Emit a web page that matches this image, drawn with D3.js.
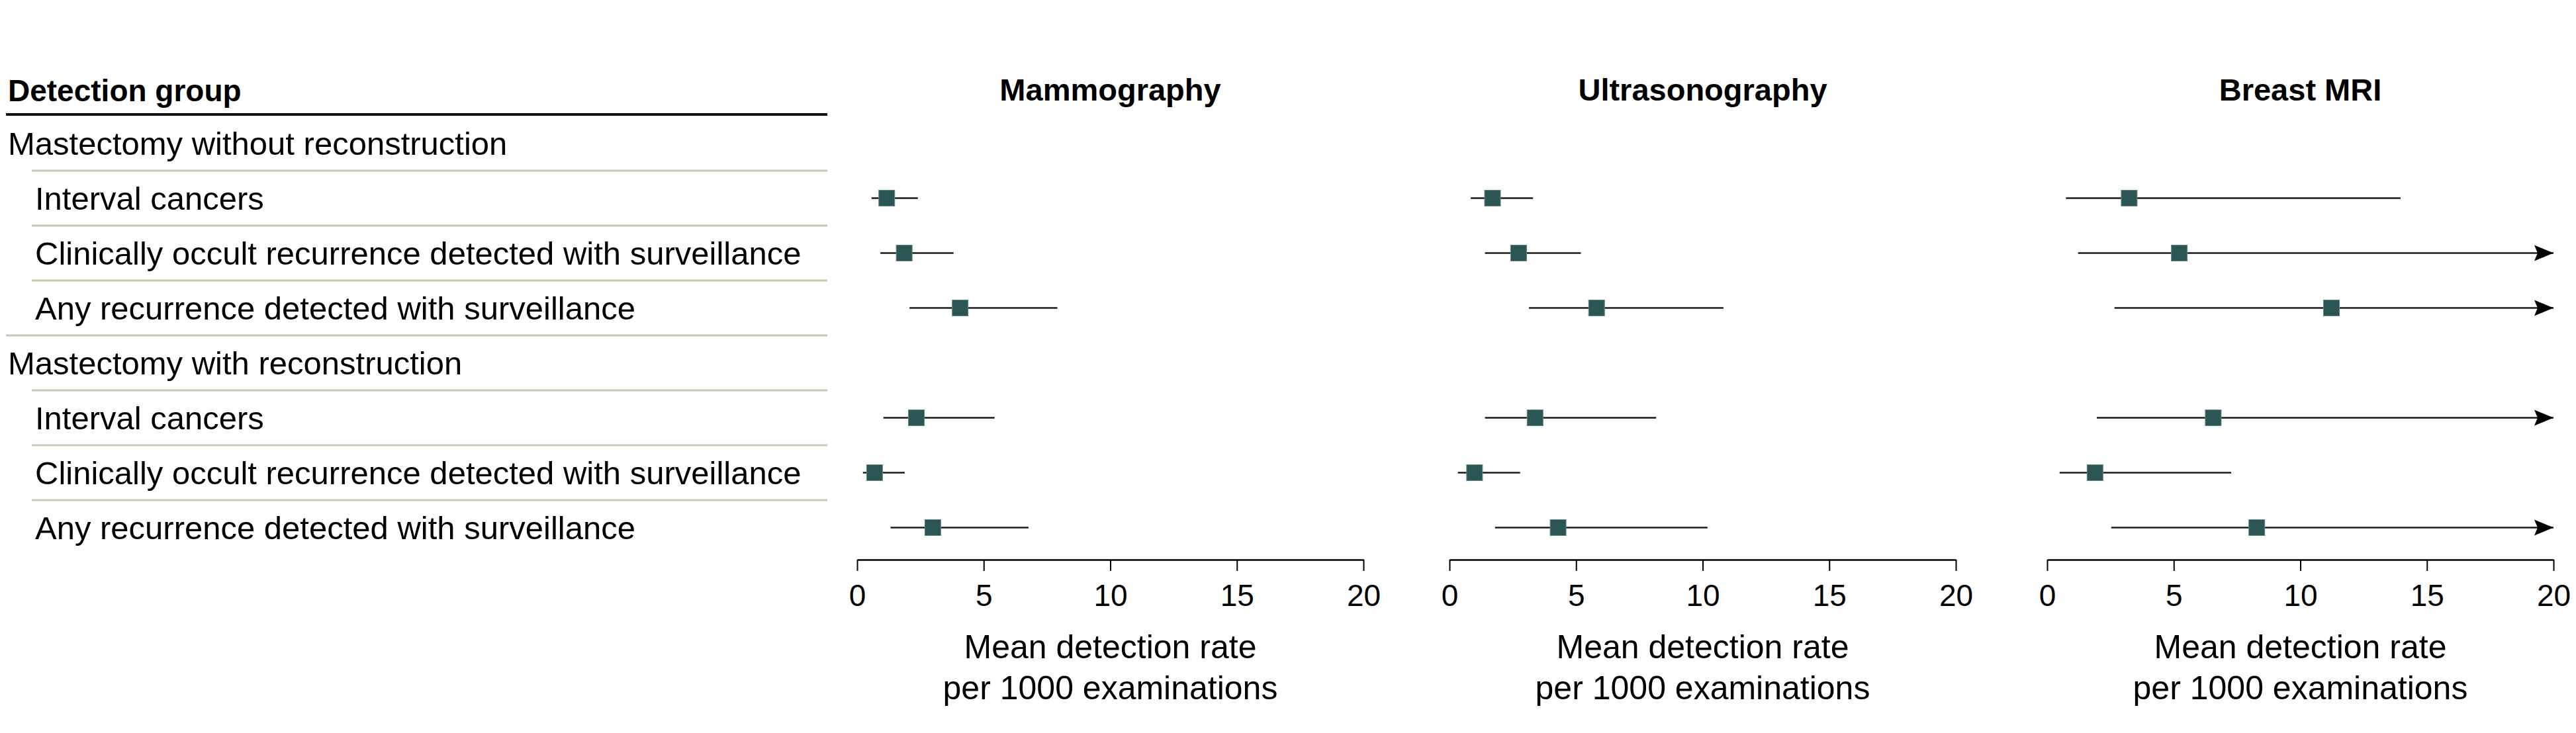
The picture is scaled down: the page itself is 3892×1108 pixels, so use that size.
<!DOCTYPE html>
<html>
<head>
<meta charset="utf-8">
<script src="https://cdn.jsdelivr.net/npm/d3@7"></script>
<style>
  html, body { margin: 0; padding: 0; background: #fff; }
  svg { display: block; }
  text { font-family: "Liberation Sans", Arial, sans-serif; fill: #000; }
</style>
</head>
<body>
<svg id="chart" width="3892" height="1108"></svg>
<script>
// ---------- DATA ----------
const headerLabel = "Detection group";
const rowLabels = [
  "Mastectomy without reconstruction",
  "Interval cancers",
  "Clinically occult recurrence detected with surveillance",
  "Any recurrence detected with surveillance",
  "Mastectomy with reconstruction",
  "Interval cancers",
  "Clinically occult recurrence detected with surveillance",
  "Any recurrence detected with surveillance"
];
const rowIsGroup = [true, false, false, false, true, false, false, false];

const modalities = ["Mammography", "Ultrasonography", "Breast MRI"];
const tickValues = [0, 5, 10, 15, 20];
const axisTitleLines = ["Mean detection rate", "per 1000 examinations"];

// mean and 95% CI (null = no estimate for group header rows)
const mammoMean = [null, 1.17, 1.86, 4.07, null, 2.34, 0.69, 2.99];
const mammoLow  = [null, 0.57, 0.92, 2.07, null, 1.04, 0.23, 1.32];
const mammoHigh = [null, 2.40, 3.81, 7.91, null, 5.43, 1.88, 6.77];

const usMean = [null, 1.70, 2.73, 5.81, null, 3.38, 0.99, 4.29];
const usLow  = [null, 0.84, 1.40, 3.14, null, 1.40, 0.33, 1.80];
const usHigh = [null, 3.30, 5.19, 10.82, null, 8.16, 2.79, 10.19];

const mriMean = [null, 3.24, 5.22, 11.23, null, 6.56, 1.89, 8.28];
const mriLow  = [null, 0.74, 1.22, 2.66, null, 1.96, 0.49, 2.53];
// Infinity = upper limit beyond the axis (drawn as an arrow)
const mriHigh = [null, 13.96, Infinity, Infinity, null, Infinity, 7.27, Infinity];

const seriesMean = [mammoMean, usMean, mriMean];
const seriesLow  = [mammoLow, usLow, mriLow];
const seriesHigh = [mammoHigh, usHigh, mriHigh];

// ---------- LAYOUT ----------
const svg = d3.select("#chart");
const fontLabel = 49;
const tableLeft = 9, tableRight = 1250;
const rowTop = 175, rowBottom = 839;
const panelRanges = [[1295, 2060], [2190, 2955], [3093, 3858]];
const axisY = 846;
const markerColor = "#2c5653";

const y = d3.scaleBand().domain(d3.range(rowLabels.length)).range([rowTop, rowBottom]);

// header
svg.append("text")
  .attr("x", 12).attr("y", 153)
  .attr("font-size", 46).attr("font-weight", "bold")
  .text(headerLabel);
svg.append("line")
  .attr("x1", tableLeft).attr("x2", tableRight)
  .attr("y1", 173).attr("y2", 173)
  .attr("stroke", "#111").attr("stroke-width", 4);

// row separators
rowLabels.forEach((d, i) => {
  if (i === rowLabels.length - 1) return;
  const yy = y(i) + y.bandwidth();
  const full = rowIsGroup[i + 1];
  svg.append("line")
    .attr("x1", full ? tableLeft : 48).attr("x2", tableRight)
    .attr("y1", yy).attr("y2", yy)
    .attr("stroke", "#c6c9b6").attr("stroke-width", 3);
});

// row labels
svg.selectAll("text.rowlabel")
  .data(rowLabels)
  .join("text")
  .attr("class", "rowlabel")
  .attr("x", (d, i) => rowIsGroup[i] ? 12 : 53)
  .attr("y", (d, i) => y(i) + y.bandwidth() / 2 + 0.36 * fontLabel)
  .attr("font-size", fontLabel)
  .text(d => d);

// arrow marker
svg.append("defs").append("marker")
  .attr("id", "arrow")
  .attr("markerUnits", "userSpaceOnUse")
  .attr("markerWidth", 32).attr("markerHeight", 26)
  .attr("viewBox", "0 -13 32 26")
  .attr("refX", 29).attr("refY", 0)
  .attr("orient", "auto")
  .append("path")
  .attr("d", "M0,-12 L29,0 L0,12 L5,0 Z")
  .attr("fill", "#000");

// panels
modalities.forEach((m, p) => {
  const x = d3.scaleLinear().domain([0, 20]).range(panelRanges[p]);
  const g = svg.append("g");
  const cx = (panelRanges[p][0] + panelRanges[p][1]) / 2;

  g.append("text")
    .attr("x", cx).attr("y", 152)
    .attr("text-anchor", "middle")
    .attr("font-size", 47).attr("font-weight", "bold")
    .text(m);

  const axis = d3.axisBottom(x)
    .tickValues(tickValues)
    .tickSize(17)
    .tickSizeOuter(0)
    .tickPadding(20)
    .tickFormat(d3.format("d"));
  const ag = g.append("g").attr("transform", `translate(0,${axisY})`).call(axis);
  ag.select(".domain").attr("stroke", "#000").attr("stroke-width", 2.5);
  ag.selectAll(".tick line").attr("stroke", "#000").attr("stroke-width", 2);
  ag.selectAll(".tick text")
    .attr("font-size", 46)
    .attr("font-family", "'Liberation Sans', Arial, sans-serif")
    .attr("fill", "#000");

  axisTitleLines.forEach((t, k) => {
    g.append("text")
      .attr("x", cx).attr("y", 995 + k * 62)
      .attr("text-anchor", "middle")
      .attr("font-size", 50)
      .text(t);
  });

  const means = seriesMean[p], lows = seriesLow[p], highs = seriesHigh[p];
  const idx = d3.range(means.length).filter(i => means[i] != null);

  g.selectAll("line.ci")
    .data(idx)
    .join("line")
    .attr("class", "ci")
    .attr("x1", i => x(lows[i]))
    .attr("x2", i => x(Math.min(highs[i], 20)))
    .attr("y1", i => y(i) + y.bandwidth() / 2)
    .attr("y2", i => y(i) + y.bandwidth() / 2)
    .attr("stroke", "#1a1a1a")
    .attr("stroke-width", 2.5)
    .attr("marker-end", i => highs[i] > 20 ? "url(#arrow)" : null);

  const s = 24;
  g.selectAll("rect.pt")
    .data(idx)
    .join("rect")
    .attr("class", "pt")
    .attr("x", i => x(means[i]) - s / 2)
    .attr("y", i => y(i) + y.bandwidth() / 2 - s / 2)
    .attr("width", s).attr("height", s)
    .attr("fill", markerColor)
    .attr("stroke", "#5d8785").attr("stroke-width", 1);
});
</script>
</body>
</html>
